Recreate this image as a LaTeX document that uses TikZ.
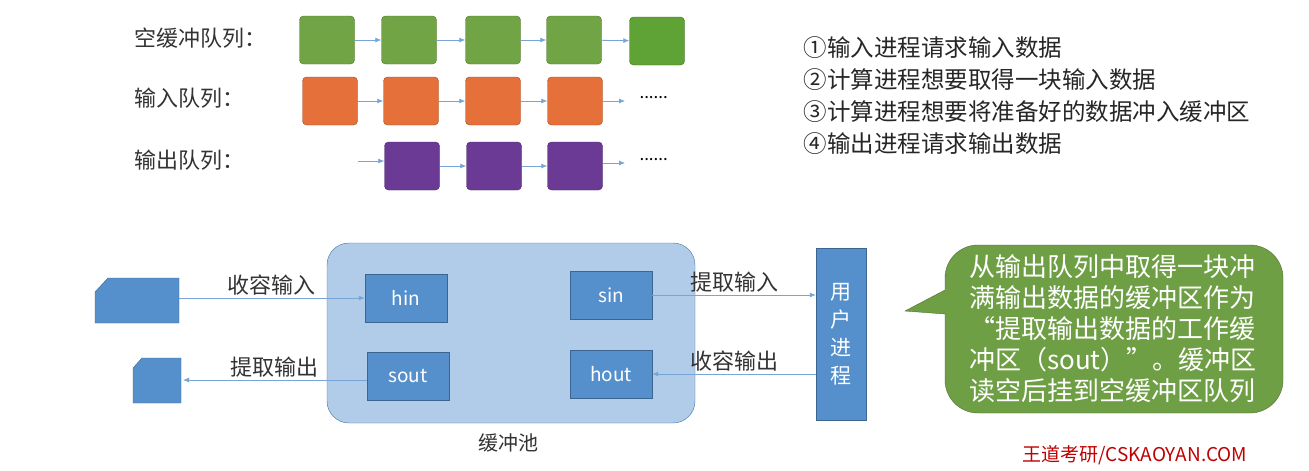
\documentclass[tikz,border=0pt]{standalone}
\usepackage{fontspec}
\setmainfont{Noto Sans CJK SC}
\usetikzlibrary{arrows.meta}
\definecolor{gq}{HTML}{70A444}\definecolor{gq2}{HTML}{5FA236}
\definecolor{oq}{HTML}{E5703A}\definecolor{pq}{HTML}{6A3A95}
\definecolor{bl}{HTML}{5590CC}\definecolor{pool}{HTML}{B1CCE8}
\definecolor{cg}{HTML}{6F9F45}
\tikzset{
 qb/.style={draw=#1!70!black,fill=#1,rounded corners=4pt,minimum width=55pt,minimum height=48pt,inner sep=0pt},
 ar/.style={-{Latex[length=6pt,width=5pt]},draw=bl!80,line width=0.8pt},
 bx/.style={draw=bl!70!black,fill=bl,text=white,font=\fontsize{19}{19}\selectfont,minimum width=82pt,minimum height=48pt,inner sep=0pt},
 lb/.style={font=\fontsize{22}{22}\selectfont,text=black!80},
 tx/.style={font=\fontsize{23.5}{24}\selectfont,anchor=west,text=black!85}
}
\begin{document}
\begin{tikzpicture}[x=1pt,y=-1pt]
\useasboundingbox (0,0) rectangle (1309,471);
\fill[white] (0,0) rectangle (1309,471);
% queues
\node[lb,anchor=west] (l1) at (131,38) {空缓冲队列：};
\node[lb,anchor=west] (l2) at (131,98) {输入队列：};
\node[lb,anchor=west] (l3) at (131,160) {输出队列：};
\foreach \x [count=\i] in {327,409,493,574} \node[qb=gq] (e\i) at (\x,40) {};
\node[qb=gq2] (e5) at (657,41) {};
\foreach \i [evaluate=\i as \j using int(\i+1)] in {1,2,3,4} \draw[ar] (e\i) -- (e\j);
\foreach \x [count=\i] in {330,411,493,575} \node[qb=oq] (i\i) at (\x,101) {};
\foreach \i [evaluate=\i as \j using int(\i+1)] in {1,2,3} \draw[ar] (i\i) -- (i\j);
\coordinate (ie) at (625,101);
\draw[ar] (i4) -- (ie);
\node[font=\fontsize{17}{17}\selectfont,anchor=west] (idots) at (636,98) {......};
\foreach \x [count=\i] in {412,494,575} \node[qb=pq] (o\i) at (\x,166) {};
\coordinate (os) at (358,161);
\draw[ar] (os) -- (o1.west|-os);
\foreach \i [evaluate=\i as \j using int(\i+1)] in {1,2} \draw[ar] (o\i) -- (o\j);
\coordinate (oe) at (625,163);
\draw[ar] (o3.east|-oe) -- (oe);
\node[font=\fontsize{17}{17}\selectfont,anchor=west] (odots) at (636,160) {......};
% list
\node[tx] (t1) at (800,48) {①输入进程请求输入数据};
\node[tx] (t2) at (800,80) {②计算进程想要取得一块输入数据};
\node[tx] (t3) at (800,112) {③计算进程想要将准备好的数据冲入缓冲区};
\node[tx] (t4) at (800,144) {④输出进程请求输出数据};
% pool
\node[draw=bl!80!black,fill=pool,rounded corners=22pt,minimum width=368pt,minimum height=180pt] (pool) at (511,333) {};
\node[lb,font=\fontsize{20}{20}\selectfont] (pl) at (508,443) {缓冲池};
\node[bx] (hin) at (406,298) {hin};
\node[bx] (sin) at (611,295) {sin};
\node[bx] (sout) at (408,376) {sout};
\node[bx] (hout) at (611,374) {hout};
\node[draw=bl!70!black,fill=bl,minimum width=50pt,minimum height=172pt,inner sep=0pt,text=white,align=center,font=\fontsize{21}{28}\selectfont] (up) at (841,334) {用\\户\\进\\程};
% cards
\fill[bl,draw=bl!70!black] (95,292) -- (108,278) -- (179,278) -- (179,323) -- (95,323) -- cycle;
\coordinate (c1e) at (179,298);
\fill[bl,draw=bl!70!black] (133,368) -- (142,358) -- (181,358) -- (181,403) -- (133,403) -- cycle;
\coordinate (c2e) at (183,380);
\draw[ar] (c1e) -- node[lb,above,yshift=-1pt] {收容输入} (hin.west|-c1e);
\draw[ar] (sout.west|-c2e) -- node[lb,above,yshift=-1pt] {提取输出} (c2e);
\draw[ar] (sin.east) -- node[lb,above,yshift=-1pt] {提取输入} (up.west|-sin.east);
\draw[ar] (up.west|-hout.east) -- node[lb,above,yshift=-1pt] {收容输出} (hout.east);
% callout
\fill[cg,draw=cg!70!black,rounded corners=33pt] (945,290) [sharp corners]-- (905,311) -- (945,314) [rounded corners=33pt] -- (945,413) -- (1283,413) -- (1283,245) -- (945,245) [sharp corners]-- cycle;
\node[text=white,align=left,font=\fontsize{26}{31}\selectfont] (ct) at (1113,329) {从输出队列中取得一块冲\\满输出数据的缓冲区作为\\“提取输出数据的工作缓\\冲区（sout）”。缓冲区\\读空后挂到空缓冲区队列};
\node[text=red!75!black,font=\fontsize{19}{19}\selectfont] (wm) at (1135,455) {王道考研/CSKAOYAN.COM};
\end{tikzpicture}
\end{document}
